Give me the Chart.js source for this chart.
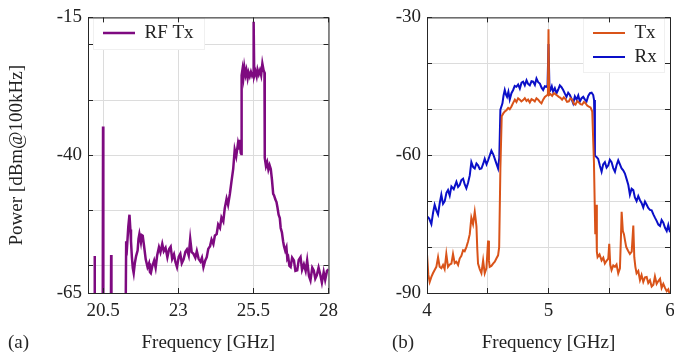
<!DOCTYPE html>
<html>
<head>
<meta charset="utf-8">
<script src="https://cdn.jsdelivr.net/npm/chart.js@4.4.0/dist/chart.umd.min.js"></script>
<style>
  html, body { margin: 0; padding: 0; background: #fff; overflow: hidden; }
  body { width: 674px; height: 358px; position: relative; font-family: 'Liberation Serif', serif; color: #262626; }
  .panel { position: absolute; top: 0; width: 345px; height: 358px; }
  #pa { left: 0; }
  #pb { left: 345px; }
  .tag { position: absolute; top: 331px; font-size: 19px; }
</style>
</head>
<body>
<div class="panel" id="pa"><canvas id="chartA" width="345" height="358"></canvas></div>
<div class="panel" id="pb"><canvas id="chartB" width="345" height="358"></canvas></div>
<div class="tag" style="left:8px">(a)</div>
<div class="tag" style="left:392px">(b)</div>
<script>
// panel (a): RF Tx spectrum
const rfFreq = [20.00, 20.21, 20.22, 20.23, 20.49, 20.50, 20.51, 20.76, 20.77, 20.78,
  21.25, 21.27, 21.30, 21.34, 21.38, 21.41, 21.43, 21.46, 21.49, 21.52,
  21.56, 21.60, 21.65, 21.68, 21.71, 21.76, 21.79, 21.82, 21.87, 21.92,
  21.98, 22.03, 22.06, 22.09, 22.14, 22.20, 22.25, 22.30, 22.36, 22.41,
  22.47, 22.52, 22.58, 22.64, 22.70, 22.75, 22.80, 22.86, 22.91, 22.96,
  23.02, 23.07, 23.12, 23.18, 23.24, 23.29, 23.35, 23.40, 23.45, 23.51,
  23.57, 23.62, 23.68, 23.74, 23.79, 23.84, 23.90, 23.95, 24.00, 24.06,
  24.11, 24.17, 24.22, 24.28, 24.33, 24.39, 24.44, 24.50, 24.55, 24.61,
  24.66, 24.72, 24.77, 24.83, 24.88, 24.93, 24.99, 25.03, 25.05, 25.08,
  25.10, 25.11, 25.14, 25.17, 25.20, 25.24, 25.27, 25.31, 25.34, 25.38,
  25.42, 25.46, 25.49, 25.51, 25.53, 25.57, 25.61, 25.64, 25.68, 25.72,
  25.76, 25.80, 25.84, 25.87, 25.88, 25.92, 25.96, 26.00, 26.04, 26.08,
  26.12, 26.16, 26.19, 26.23, 26.27, 26.30, 26.34, 26.38, 26.41, 26.45,
  26.49, 26.52, 26.56, 26.60, 26.63, 26.66, 26.70, 26.74, 26.79, 26.85,
  26.90, 26.96, 27.01, 27.07, 27.12, 27.18, 27.24, 27.29, 27.35, 27.40,
  27.46, 27.51, 27.56, 27.61, 27.67, 27.72, 27.78, 27.84, 27.89, 27.95, 28.00];
const rfPower = [-70, -70, -58.3, -70, -70, -34.8, -70, -70, -58.1, -70,
  -70, -55.6, -56.5, -53.0, -50.8, -53.5, -55.6, -58.5, -60.5, -61.4,
  -59.5, -58.3, -57.3, -55.2, -54.3, -55.8, -54.5, -54.6, -56.7, -58.9,
  -60.3, -59.6, -61.2, -61.4, -60.1, -59.1, -60.4, -58.2, -56.7, -57.6,
  -56.1, -57.4, -56.8, -58.5, -57.0, -56.6, -58.8, -58.0, -59.4, -60.3,
  -58.4, -57.9, -59.6, -58.9, -57.5, -57.1, -58.2, -55.2, -57.6, -57.9,
  -58.6, -57.4, -58.8, -59.3, -58.6, -60.3, -59.1, -58.5, -57.0, -56.5,
  -55.3, -56.1, -54.6, -54.3, -52.6, -53.2, -51.3, -52.0, -49.6, -47.9,
  -49.0, -47.0, -44.9, -42.5, -39.0, -40.2, -37.8, -38.8, -37.2, -39.6,
  -39.8, -25.5, -24.4, -25.8, -24.0, -25.4, -24.6, -26.0, -25.0, -25.7,
  -24.9, -25.6, -25.2, -15.8, -25.6, -24.8, -25.7, -24.5, -25.3, -24.6,
  -25.5, -23.4, -24.6, -25.0, -40.5, -42.0, -41.3, -42.6, -41.8, -42.5,
  -44.5, -47.0, -47.3, -48.0, -48.5, -49.4, -50.8, -51.4, -53.2, -54.0,
  -55.6, -56.5, -57.3, -56.7, -58.8, -58.5, -60.1, -60.3, -58.6, -59.1,
  -61.0, -60.9, -59.0, -58.5, -60.8, -59.8, -61.0, -59.1, -61.9, -62.7,
  -60.4, -60.9, -62.4, -61.8, -60.4, -61.5, -63.1, -61.2, -62.6, -61.0, -60.7];

// panel (b): Tx and Rx spectra
const rxFreq = [4.000, 4.018, 4.036, 4.050, 4.063, 4.077, 4.091, 4.105, 4.118, 4.132,
  4.146, 4.160, 4.173, 4.187, 4.201, 4.220, 4.242, 4.256, 4.269, 4.283,
  4.297, 4.310, 4.324, 4.338, 4.352, 4.365, 4.380, 4.393, 4.407, 4.420,
  4.434, 4.448, 4.462, 4.475, 4.490, 4.503, 4.517, 4.530, 4.545, 4.558,
  4.572, 4.585, 4.595, 4.604, 4.621, 4.630, 4.640, 4.650, 4.659, 4.670,
  4.681, 4.695, 4.709, 4.722, 4.736, 4.750, 4.764, 4.778, 4.791, 4.805,
  4.819, 4.832, 4.846, 4.860, 4.874, 4.888, 4.901, 4.915, 4.929, 4.943,
  4.956, 4.970, 4.984, 4.992, 5.000, 5.008, 5.016, 5.027, 5.038, 5.052,
  5.066, 5.080, 5.093, 5.107, 5.121, 5.135, 5.148, 5.162, 5.176, 5.190,
  5.203, 5.217, 5.231, 5.245, 5.258, 5.272, 5.286, 5.300, 5.313, 5.327,
  5.341, 5.355, 5.368, 5.375, 5.382, 5.395, 5.409, 5.423, 5.437, 5.450,
  5.464, 5.478, 5.492, 5.505, 5.519, 5.533, 5.547, 5.560, 5.574, 5.588,
  5.602, 5.615, 5.629, 5.643, 5.657, 5.670, 5.684, 5.698, 5.711, 5.725,
  5.739, 5.753, 5.766, 5.780, 5.794, 5.808, 5.821, 5.835, 5.849, 5.863,
  5.876, 5.890, 5.904, 5.918, 5.931, 5.945, 5.959, 5.973, 5.986, 6.000];
const rxPower = [-73.3, -73.8, -75.0, -72.5, -70.8, -72.0, -72.9, -70.4, -68.6, -70.6,
  -70.0, -68.2, -67.6, -68.8, -66.8, -67.4, -65.8, -66.9, -66.5, -65.4,
  -65.1, -66.3, -67.2, -66.0, -64.4, -61.5, -62.6, -62.9, -61.8, -62.2,
  -63.0, -62.9, -61.9, -60.8, -62.0, -61.1, -60.0, -59.0, -59.8, -60.8,
  -61.9, -62.9, -60.5, -50.1, -48.7, -47.0, -45.8, -46.8, -47.3, -46.2,
  -47.9, -46.5, -45.8, -44.9, -45.1, -44.6, -45.5, -44.2, -44.0, -44.8,
  -43.7, -44.5, -44.8, -43.9, -44.0, -44.7, -43.3, -44.1, -44.4, -45.3,
  -45.8, -45.0, -45.1, -44.8, -35.8, -45.4, -45.8, -45.0, -46.2, -45.4,
  -46.5, -45.7, -44.8, -45.2, -45.8, -46.6, -47.3, -46.4, -46.9, -47.8,
  -48.7, -47.2, -47.9, -47.0, -48.3, -47.6, -47.3, -47.9, -48.3, -47.1,
  -46.5, -46.4, -46.9, -48.0, -60.1, -60.4, -60.8, -62.3, -63.6, -62.0,
  -61.5, -62.7, -62.2, -61.0, -61.5, -62.8, -63.6, -62.2, -61.1, -62.0,
  -62.9, -63.3, -64.0, -65.2, -66.5, -68.6, -67.3, -67.6, -69.2, -70.0,
  -68.9, -69.8, -70.4, -71.4, -70.1, -70.8, -71.5, -71.9, -72.0, -72.9,
  -73.6, -74.3, -75.1, -75.4, -74.1, -74.7, -75.8, -76.5, -75.2, -76.8];

const txFreq = [4.000, 4.011, 4.022, 4.036, 4.049, 4.063, 4.077, 4.091, 4.104, 4.118,
  4.132, 4.145, 4.159, 4.173, 4.187, 4.201, 4.214, 4.228, 4.242, 4.256,
  4.269, 4.283, 4.297, 4.310, 4.324, 4.338, 4.352, 4.365, 4.379, 4.393,
  4.400, 4.407, 4.414, 4.420, 4.434, 4.448, 4.462, 4.475, 4.489, 4.503,
  4.510, 4.516, 4.530, 4.544, 4.558, 4.571, 4.585, 4.594, 4.604, 4.615,
  4.628, 4.640, 4.654, 4.668, 4.681, 4.695, 4.709, 4.723, 4.736, 4.750,
  4.764, 4.777, 4.791, 4.805, 4.819, 4.832, 4.846, 4.860, 4.874, 4.887,
  4.901, 4.915, 4.929, 4.942, 4.956, 4.970, 4.985, 4.995, 5.000, 5.005,
  5.016, 5.030, 5.044, 5.057, 5.071, 5.085, 5.098, 5.112, 5.126, 5.140,
  5.153, 5.167, 5.181, 5.195, 5.208, 5.222, 5.236, 5.250, 5.263, 5.277,
  5.291, 5.305, 5.318, 5.332, 5.346, 5.360, 5.374, 5.385, 5.391, 5.398,
  5.404, 5.420, 5.437, 5.451, 5.464, 5.478, 5.492, 5.500, 5.508, 5.519,
  5.533, 5.547, 5.560, 5.574, 5.588, 5.596, 5.602, 5.612, 5.621, 5.630,
  5.640, 5.655, 5.670, 5.685, 5.698, 5.706, 5.715, 5.725, 5.739, 5.753,
  5.766, 5.780, 5.794, 5.808, 5.821, 5.835, 5.849, 5.863, 5.876, 5.890,
  5.904, 5.918, 5.931, 5.945, 5.959, 5.973, 5.986, 6.000];
const txPower = [-81.5, -86.0, -87.6, -86.5, -85.7, -85.0, -84.3, -82.2, -84.3, -84.6,
  -83.9, -84.8, -81.5, -84.3, -83.8, -83.6, -81.5, -83.5, -83.2, -83.9,
  -82.5, -81.9, -80.7, -80.9, -80.0, -78.8, -77.2, -73.6, -75.0, -72.3,
  -73.8, -75.5, -80.5, -83.6, -84.8, -85.7, -82.9, -85.7, -84.6, -78.6,
  -83.0, -84.3, -84.1, -83.6, -83.2, -82.5, -81.8, -80.0, -62.9, -51.5,
  -50.9, -50.5, -50.2, -49.7, -50.0, -49.4, -48.6, -47.9, -48.4, -47.6,
  -47.9, -48.3, -48.0, -47.6, -48.2, -47.9, -48.5, -47.8, -48.0, -48.3,
  -47.6, -47.9, -48.4, -48.7, -47.9, -47.3, -47.0, -46.8, -32.6, -46.9,
  -46.7, -47.1, -46.5, -46.7, -47.0, -47.3, -47.5, -47.9, -47.4, -47.8,
  -48.4, -48.3, -47.6, -47.9, -48.8, -49.0, -48.2, -48.5, -48.9, -49.0,
  -48.4, -48.7, -49.2, -49.4, -49.6, -50.5, -61.5, -77.2, -70.8, -81.0,
  -82.2, -81.6, -82.9, -82.3, -83.6, -83.0, -82.5, -79.3, -83.8, -85.0,
  -84.0, -84.3, -83.8, -85.7, -84.6, -78.0, -72.3, -76.5, -77.2, -78.6,
  -80.0, -80.8, -81.5, -81.0, -75.3, -82.2, -84.3, -85.7, -85.2, -87.2,
  -86.1, -87.6, -86.6, -86.5, -87.8, -87.2, -88.6, -88.2, -86.4, -88.0,
  -87.4, -86.9, -88.9, -88.0, -88.9, -89.6, -89.2, -90.5];

// axis ticks (grid positions) and the ones that carry a label
const xTicksA = [20.5, 23, 25.5, 28];
const yTicksA = [-65, -60, -50, -40, -30, -20, -15];
const yLabelsA = [-65, -40, -15];
const xTicksB = [4, 4.5, 5, 5.5, 6];
const xLabelsB = [4, 5, 6];
const yTicksB = [-90, -80, -70, -60, -50, -40, -30];
const yLabelsB = [-90, -60, -30];

Chart.defaults.font.family = 'Liberation Serif';
Chart.defaults.font.size = 19;
Chart.defaults.color = '#222222';

const toPoints = (xs, ys) => xs.map((x, i) => ({ x: x, y: ys[i] }));

// legend sits inside the plot on a white box, above the grid
const legendBox = {
  id: 'legendBox',
  afterLayout(chart, args, o) {
    const lg = chart.legend;
    lg.left = o.x + 5;
    lg.top = o.y + 0.5;
    lg.right = lg.left + o.w;
    lg.bottom = lg.top + o.h + 40;
  },
  beforeDatasetsDraw(chart, args, o) {
    const ctx = chart.ctx;
    ctx.save();
    ctx.fillStyle = '#ffffff';
    ctx.fillRect(o.x, o.y, o.w, o.h);
    ctx.strokeStyle = '#f0f0f0';
    ctx.lineWidth = 1;
    ctx.strokeRect(o.x + 0.5, o.y + 0.5, o.w - 1, o.h - 1);
    ctx.restore();
    chart.legend.draw();
  }
};

// box frame with inward tick marks on all four sides
const frame = {
  id: 'frame',
  afterDatasetsDraw(chart) {
    const { ctx, chartArea: a, scales } = chart;
    const L = 5;
    ctx.save();
    ctx.strokeStyle = '#262626';
    ctx.lineWidth = 1;
    ctx.beginPath();
    scales.x.ticks.forEach(t => {
      const px = Math.round(scales.x.getPixelForValue(t.value) - 0.5) + 0.5;
      ctx.moveTo(px, a.bottom); ctx.lineTo(px, a.bottom - L);
      ctx.moveTo(px, a.top); ctx.lineTo(px, a.top + L);
    });
    scales.y.ticks.forEach(t => {
      const py = Math.round(scales.y.getPixelForValue(t.value) - 0.5) + 0.5;
      ctx.moveTo(a.left, py); ctx.lineTo(a.left + L, py);
      ctx.moveTo(a.right, py); ctx.lineTo(a.right - L, py);
    });
    ctx.stroke();
    ctx.strokeRect(a.left + 0.5, a.top + 0.5, a.right - a.left, a.bottom - a.top);
    ctx.restore();
  }
};

function lineSet(label, xs, ys, color, width) {
  return {
    label: label,
    data: toPoints(xs, ys),
    borderColor: color,
    backgroundColor: color,
    borderWidth: width,
    pointRadius: 0,
    tension: 0
  };
}

function makeChart(id, datasets, cfg) {
  return new Chart(document.getElementById(id), {
    type: 'line',
    data: { datasets: datasets },
    plugins: [legendBox, frame],
    options: {
      responsive: false,
      animation: false,
      events: [],
      layout: { padding: cfg.padding },
      plugins: {
        tooltip: { enabled: false },
        legend: {
          position: 'chartArea',
          align: 'start',
          labels: {
            usePointStyle: true,
            pointStyle: 'line',
            pointStyleWidth: 32,
            padding: 5,
            color: '#222222'
          }
        },
        legendBox: cfg.box
      },
      scales: {
        x: {
          type: 'linear',
          min: cfg.xMin,
          max: cfg.xMax,
          afterBuildTicks: s => { s.ticks = cfg.xTicks.map(v => ({ value: v })); },
          afterFit: s => { s.height = 65; },
          grid: { color: '#dcdcdc', drawTicks: false, z: -1 },
          border: { display: false },
          ticks: {
            autoSkip: false, maxRotation: 0, padding: 7,
            callback: v => cfg.xLabels.includes(v) ? String(v) : ''
          },
          title: { display: true, text: 'Frequency [GHz]', padding: { top: 0, bottom: 4 } }
        },
        y: {
          min: cfg.yMin,
          max: cfg.yMax,
          afterBuildTicks: s => { s.ticks = cfg.yTicks.map(v => ({ value: v })); },
          afterFit: s => { s.width = cfg.yWidth; },
          grid: { color: '#dcdcdc', drawTicks: false, z: -1 },
          border: { display: false },
          ticks: {
            autoSkip: false, padding: 6,
            callback: v => cfg.yLabels.includes(v) ? String(v) : ''
          },
          title: { display: !!cfg.yTitle, text: cfg.yTitle || '', padding: { top: 6, bottom: 0 } }
        }
      }
    }
  });
}

makeChart('chartA', [lineSet('RF Tx', rfFreq, rfPower, '#7e0a80', 2.5)], {
  padding: { left: 0, top: 12, right: 13, bottom: 0 },
  xMin: 20, xMax: 28, xTicks: xTicksA, xLabels: xTicksA,
  yMin: -65, yMax: -15, yTicks: yTicksA, yLabels: yLabelsA,
  yWidth: 88, yTitle: 'Power [dBm@100kHz]',
  box: { x: 93, y: 18, w: 112, h: 32 }
});

makeChart('chartB', [
  lineSet('Tx', txFreq, txPower, '#d95319', 2),
  lineSet('Rx', rxFreq, rxPower, '#0a0fc8', 2)
], {
  padding: { left: 0, top: 13, right: 20, bottom: 0 },
  xMin: 4, xMax: 6, xTicks: xTicksB, xLabels: xLabelsB,
  yMin: -90, yMax: -30, yTicks: yTicksB, yLabels: yLabelsB,
  yWidth: 82, yTitle: '',
  box: { x: 238, y: 18, w: 82, h: 55 }
});
</script>
</body>
</html>
